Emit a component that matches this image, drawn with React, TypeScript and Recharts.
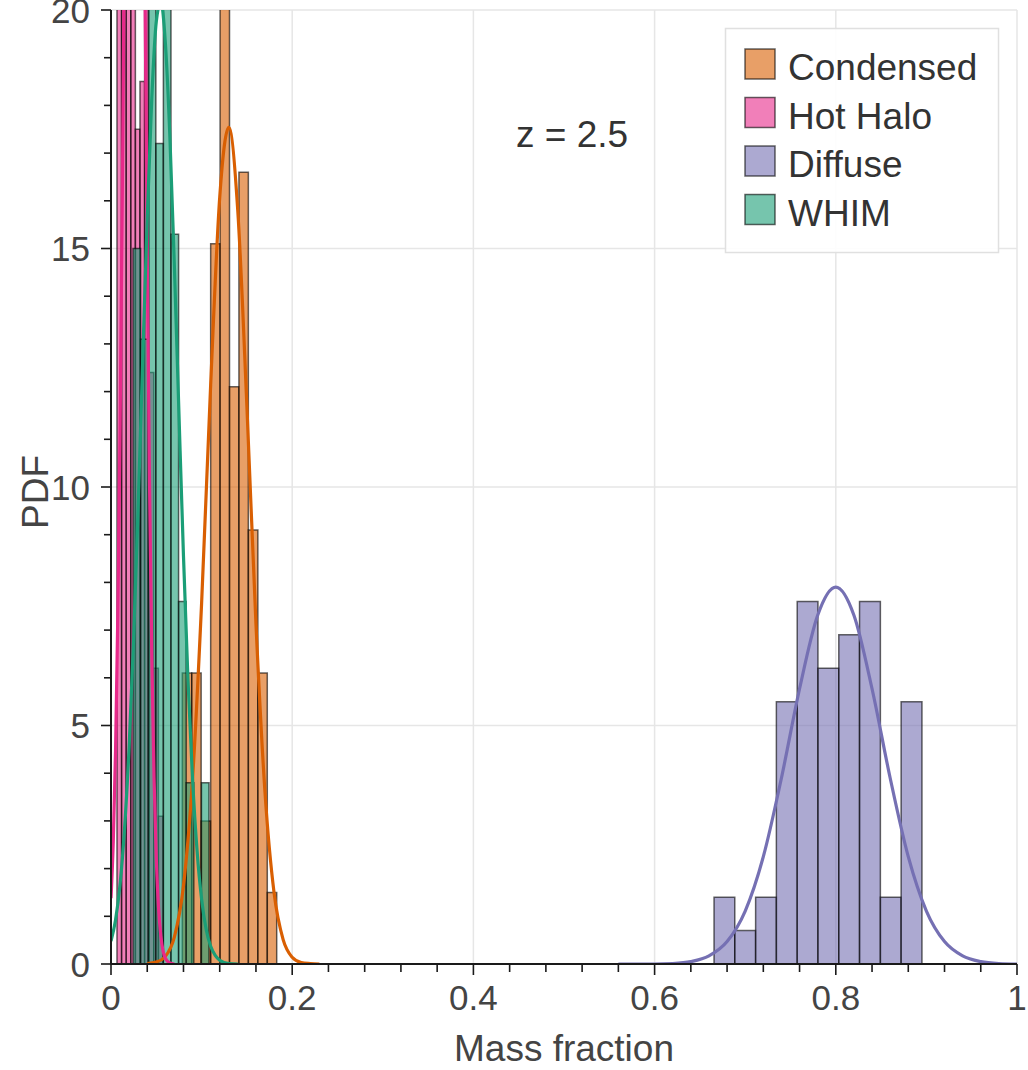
import React from "react";
import {
  ComposedChart,
  Line,
  XAxis,
  YAxis,
  CartesianGrid,
  ReferenceArea,
} from "recharts";

const FONT = '"Liberation Sans", Arial, Helvetica, sans-serif';

// legend order
const seriesNames = ["Condensed", "Hot Halo", "Diffuse", "WHIM"];
const seriesColors = ["#d95f02", "#e7298a", "#7570b3", "#1b9e77"];

// histogram bin edges + density heights
const condensedEdges = [0.0787, 0.0891, 0.0995, 0.11, 0.1204, 0.1308, 0.1412, 0.1516, 0.1621, 0.1725, 0.1829];
const condensedHeights = [6.1, 6.1, 3.0, 15.1, 21.2, 12.1, 16.6, 9.1, 6.1, 1.5];

const hotHaloEdges = [0.0066, 0.0117, 0.0168, 0.0219, 0.0269, 0.032, 0.0371, 0.0422, 0.0472, 0.0523, 0.0574];
const hotHaloHeights = [21.6, 27.8, 37.1, 30.9, 17.5, 18.5, 21.6, 12.4, 6.2, 3.1];

const diffuseEdges = [0.6656, 0.6885, 0.7115, 0.7344, 0.7574, 0.7803, 0.8033, 0.8262, 0.8492, 0.8721, 0.8951];
const diffuseHeights = [1.4, 0.7, 1.4, 5.5, 7.6, 6.2, 6.9, 7.6, 1.4, 5.5];

const whimEdges = [0.0243, 0.0327, 0.0411, 0.0495, 0.0578, 0.0662, 0.0746, 0.083, 0.0914, 0.0998, 0.1082];
const whimHeights = [15.0, 13.1, 22.4, 17.2, 22.4, 15.3, 7.6, 3.8, 0, 3.8];

// fitted curves
const condensedFitX = [0.04, 0.05, 0.06, 0.07, 0.08, 0.09, 0.1, 0.11, 0.12, 0.13, 0.14, 0.15, 0.16, 0.17, 0.18, 0.19, 0.2, 0.21, 0.22, 0.23];
const condensedFitY = [0.01, 0.04, 0.16, 0.57, 1.64, 3.88, 7.56, 12.14, 16.07, 17.54, 15.77, 11.69, 7.13, 3.59, 1.49, 0.51, 0.14, 0.03, 0.01, 0];

const hotHaloFitX = [0, 0.0025, 0.005, 0.0075, 0.01, 0.0125, 0.015, 0.0175, 0.02, 0.0225, 0.025, 0.0275, 0.03, 0.0325, 0.035, 0.0375, 0.04, 0.0425, 0.045, 0.0475, 0.05, 0.0525, 0.055, 0.0575, 0.06, 0.065, 0.07];
const hotHaloFitY = [1.38, 2.56, 4.46, 7.29, 11.2, 16.2, 21.9, 27.9, 33.4, 37.6, 39.7, 39.4, 36.7, 32.2, 26.5, 20.5, 14.9, 10.1, 6.49, 3.91, 2.21, 1.17, 0.59, 0.27, 0.12, 0.02, 0];

const diffuseFitX = [0.56, 0.58, 0.6, 0.62, 0.64, 0.66, 0.68, 0.7, 0.72, 0.74, 0.76, 0.78, 0.8, 0.82, 0.84, 0.86, 0.88, 0.9, 0.92, 0.94, 0.96, 0.98, 1.0];
const diffuseFitY = [0, 0, 0, 0.01, 0.05, 0.17, 0.47, 1.11, 2.25, 3.9, 5.77, 7.31, 7.9, 7.31, 5.77, 3.9, 2.25, 1.11, 0.47, 0.17, 0.05, 0.01, 0];

const whimFitX = [0, 0.005, 0.01, 0.015, 0.02, 0.025, 0.03, 0.035, 0.04, 0.045, 0.05, 0.055, 0.06, 0.065, 0.07, 0.075, 0.08, 0.085, 0.09, 0.095, 0.1, 0.105, 0.11, 0.115, 0.12, 0.13, 0.14];
const whimFitY = [0.48, 0.92, 1.67, 2.85, 4.55, 6.83, 9.6, 12.66, 15.65, 18.15, 19.76, 20.17, 19.31, 17.34, 14.6, 11.54, 8.55, 5.94, 3.88, 2.37, 1.36, 0.73, 0.37, 0.18, 0.08, 0.01, 0];

const xTicks = [0, 0.04, 0.08, 0.12, 0.16, 0.2, 0.24, 0.28, 0.32, 0.36, 0.4, 0.44, 0.48, 0.52, 0.56, 0.6, 0.64, 0.68, 0.72, 0.76, 0.8, 0.84, 0.88, 0.92, 0.96, 1];
const xMajorTicks = [0, 0.2, 0.4, 0.6, 0.8, 1];
const yTicks = [0, 1, 2, 3, 4, 5, 6, 7, 8, 9, 10, 11, 12, 13, 14, 15, 16, 17, 18, 19, 20];
const yMajorTicks = [0, 5, 10, 15, 20];

const toBins = (edges: number[], heights: number[]) =>
  heights
    .map((h, i) => ({ x1: edges[i], x2: edges[i + 1], h }))
    .filter((b) => b.h > 0);

const toPoints = (xs: number[], ys: number[]) => xs.map((x, i) => ({ x, y: ys[i] }));

const series = [
  { bins: toBins(condensedEdges, condensedHeights), fit: toPoints(condensedFitX, condensedFitY) },
  { bins: toBins(hotHaloEdges, hotHaloHeights), fit: toPoints(hotHaloFitX, hotHaloFitY) },
  { bins: toBins(diffuseEdges, diffuseHeights), fit: toPoints(diffuseFitX, diffuseFitY) },
  { bins: toBins(whimEdges, whimHeights), fit: toPoints(whimFitX, whimFitY) },
];

const isMajor = (list: number[], v: number) => list.some((m) => Math.abs(m - v) < 1e-6);

const XTick = (props: any) => {
  const { x, y, payload } = props;
  const major = isMajor(xMajorTicks, payload.value);
  return (
    <g>
      <line x1={x} x2={x} y1={y} y2={y + (major ? 11 : 8)} stroke="#1a1a1a" strokeWidth={1.6} />
      {major && (
        <text x={x} y={y + 46} textAnchor="middle" fontSize={35} fontFamily={FONT} fill="#444">
          {String(payload.value)}
        </text>
      )}
    </g>
  );
};

const YTick = (props: any) => {
  const { x, y, payload } = props;
  const major = isMajor(yMajorTicks, payload.value);
  return (
    <g>
      <line x1={x} x2={x - (major ? 10 : 7)} y1={y} y2={y} stroke="#1a1a1a" strokeWidth={1.6} />
      {major && (
        <text x={x - 21} y={y + 12.5} textAnchor="end" fontSize={35} fontFamily={FONT} fill="#444">
          {String(payload.value)}
        </text>
      )}
    </g>
  );
};

export default function App() {
  return (
    <div style={{ position: "absolute", left: 0, top: 0, width: 1028, height: 1070, background: "#fff" }}>
      <ComposedChart
        width={1028}
        height={1070}
        margin={{ top: 10, right: 11, bottom: 0, left: 0 }}
        style={{ fontFamily: FONT }}
      >
        <CartesianGrid
          stroke="#e6e6e6"
          strokeWidth={1.5}
          verticalValues={[0.2, 0.4, 0.6, 0.8, 1]}
          horizontalValues={[5, 10, 15, 20]}
        />
        <XAxis
          type="number"
          dataKey="x"
          domain={[0, 1]}
          ticks={xTicks}
          interval={0}
          allowDataOverflow
          tick={(p: any) => <XTick {...p} />}
          tickLine={false}
          tickSize={0}
          tickMargin={0}
          height={106}
          axisLine={{ stroke: "#1a1a1a", strokeWidth: 2 }}
        />
        <YAxis
          type="number"
          domain={[0, 20]}
          ticks={yTicks}
          interval={0}
          allowDataOverflow
          tick={(p: any) => <YTick {...p} />}
          tickLine={false}
          tickSize={0}
          tickMargin={0}
          width={111}
          axisLine={{ stroke: "#1a1a1a", strokeWidth: 2 }}
        />
        {series.map((s, si) =>
          s.bins.map((b, bi) => (
            <ReferenceArea
              key={`bin-${si}-${bi}`}
              x1={b.x1}
              x2={b.x2}
              y1={0}
              y2={b.h}
              ifOverflow="hidden"
              fill={seriesColors[si]}
              fillOpacity={0.6}
              stroke="#000"
              strokeOpacity={0.6}
              strokeWidth={1.5}
            />
          ))
        )}
        {series.map((s, si) => (
          <Line
            key={`fit-${si}`}
            data={s.fit}
            dataKey="y"
            name={seriesNames[si]}
            type="monotone"
            stroke={seriesColors[si]}
            strokeWidth={3.2}
            dot={false}
            activeDot={false}
            isAnimationActive={false}
          />
        ))}
      </ComposedChart>

      <svg
        width={1028}
        height={1070}
        style={{ position: "absolute", left: 0, top: 0, pointerEvents: "none" }}
        fontFamily={FONT}
      >
        <text x={564} y={1061} textAnchor="middle" fontSize={37} fill="#444">
          Mass fraction
        </text>
        <text x={48} y={492} textAnchor="middle" fontSize={37} fill="#444" transform="rotate(-90, 48, 492)">
          PDF
        </text>
        <text x={516} y={147} fontSize={37} fill="#333">
          z = 2.5
        </text>
        <rect x={725.5} y={28.5} width={273} height={224} fill="#fff" fillOpacity={0.9} stroke="#e0e0e0" strokeWidth={1.5} />
        {seriesNames.map((name, i) => (
          <g key={name}>
            <rect
              x={745}
              y={49 + 48.5 * i}
              width={30}
              height={30}
              fill={seriesColors[i]}
              fillOpacity={0.6}
              stroke="#000"
              strokeOpacity={0.6}
              strokeWidth={1.5}
            />
            <text x={788} y={80 + 48.5 * i} fontSize={37} fill="#333">
              {name}
            </text>
          </g>
        ))}
      </svg>
    </div>
  );
}
